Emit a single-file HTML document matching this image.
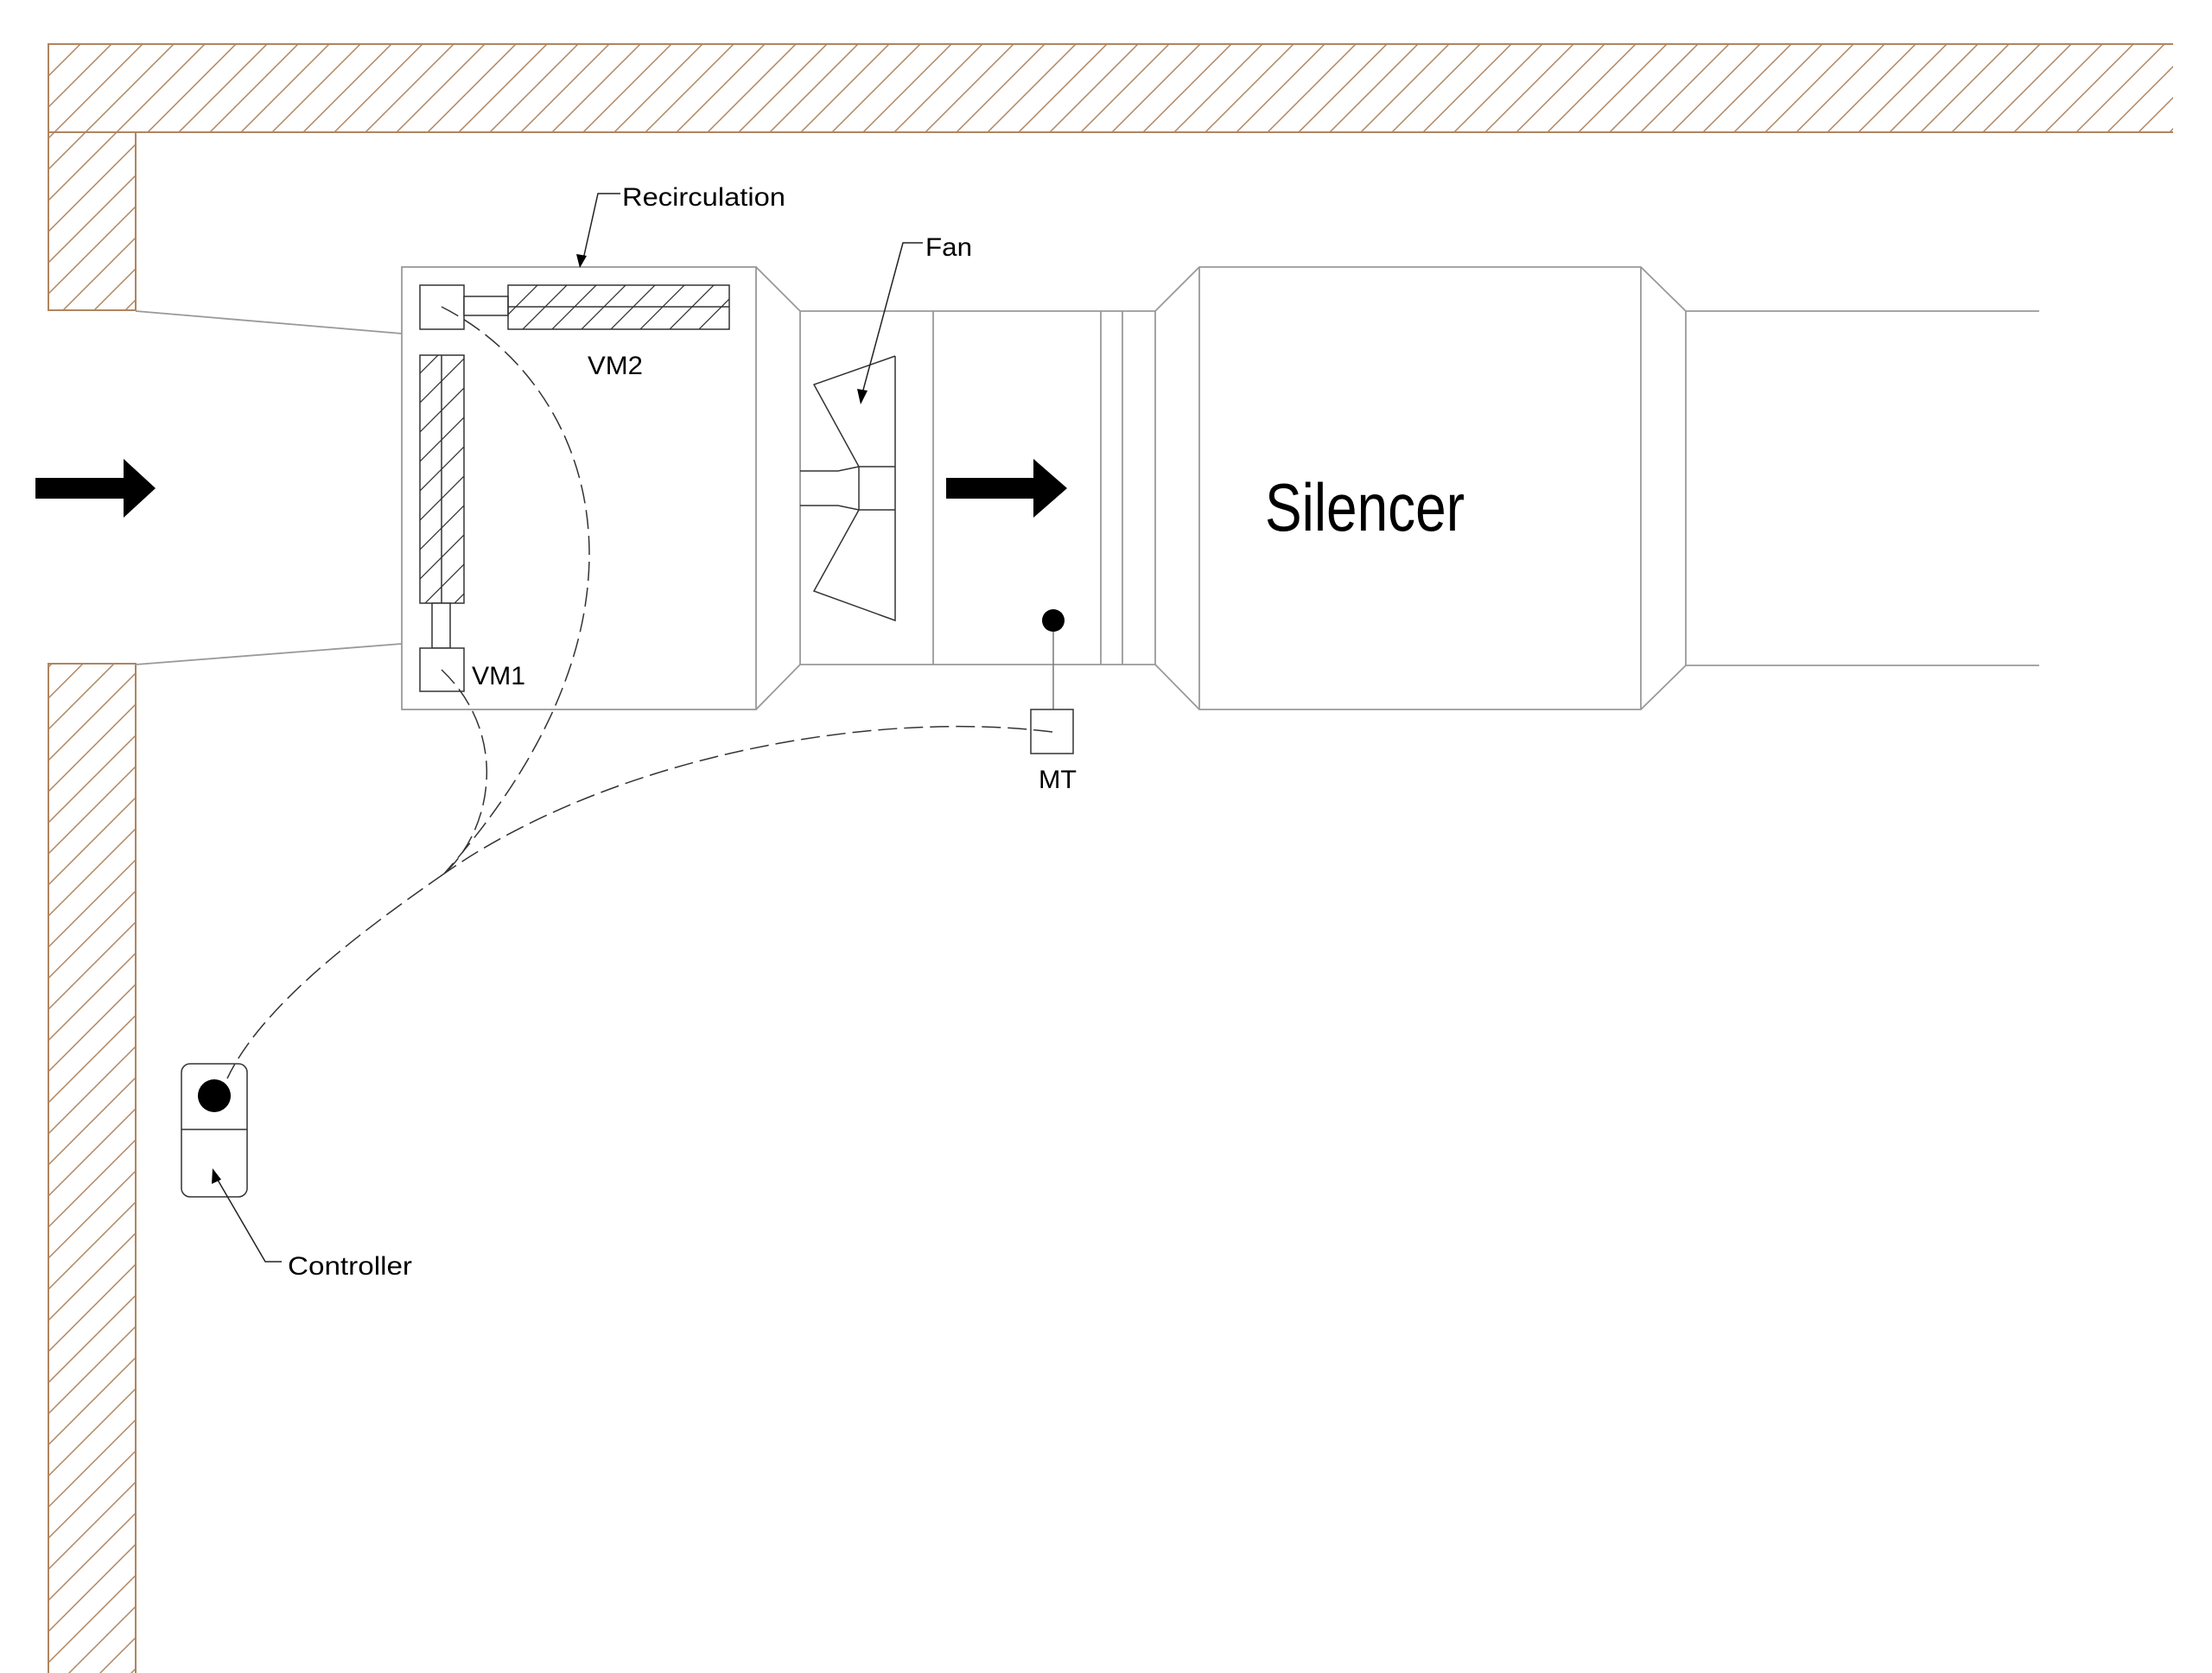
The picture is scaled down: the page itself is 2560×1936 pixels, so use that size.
<!DOCTYPE html>
<html><head><meta charset="utf-8"><style>html,body{margin:0;padding:0;background:#fff}svg{display:block}</style></head>
<body>
<svg width="2560" height="1936" viewBox="0 0 2560 1936" xmlns="http://www.w3.org/2000/svg" font-family="'Liberation Sans Narrow','Liberation Sans',sans-serif">
<defs>
<pattern id="h" patternUnits="userSpaceOnUse" width="36" height="36">
<path d="M0,36 L36,0 M-9,9 L9,-9 M27,45 L45,27" stroke="#b08560" stroke-width="1.5"/>
</pattern>
<pattern id="h2" patternUnits="userSpaceOnUse" width="34" height="34">
<path d="M0,34 L34,0 M-8,8 L8,-8 M26,42 L42,26" stroke="#333" stroke-width="1.3"/>
</pattern>
</defs>
<!-- walls -->
<rect x="56" y="51" width="2459" height="102" fill="url(#h)"/>
<path d="M2515,51 L56,51 L56,153 L2515,153" fill="none" stroke="#b08560" stroke-width="2"/>
<rect x="56" y="153" width="101" height="206" fill="url(#h)" stroke="#b08560" stroke-width="2"/>
<rect x="56" y="768" width="101" height="1180" fill="url(#h)" stroke="#b08560" stroke-width="2"/>
<g stroke="#999" stroke-width="1.8" fill="none">
<line x1="157" y1="360" x2="465" y2="386"/>
<line x1="157" y1="769" x2="465" y2="745"/>
<rect x="465" y="309" width="410" height="512"/>
<path d="M875,309 L926,360 L1337,360 L1388,309 L1899,309 L1951,360 L2360,360"/>
<path d="M875,821 L926,769 L1337,769 L1388,821 L1899,821 L1951,770 L2360,770"/>
<line x1="926" y1="360" x2="926" y2="769"/>
<line x1="1080" y1="360" x2="1080" y2="769"/>
<line x1="1274" y1="360" x2="1274" y2="769"/>
<line x1="1299" y1="360" x2="1299" y2="769"/>
<line x1="1337" y1="360" x2="1337" y2="769"/>
<line x1="1388" y1="309" x2="1388" y2="821"/>
<line x1="1899" y1="309" x2="1899" y2="821"/>
<line x1="1951" y1="360" x2="1951" y2="770"/>
</g>
<!-- dampers -->
<g stroke="#333" stroke-width="1.5" fill="none">
<rect x="486" y="330" width="51" height="51" fill="#fff"/>
<rect x="537" y="343" width="51" height="22" fill="#fff"/>
<rect x="588" y="330" width="256" height="51" fill="url(#h2)"/>
<line x1="588" y1="355" x2="844" y2="355"/>
<rect x="486" y="411" width="51" height="287" fill="url(#h2)"/>
<line x1="511" y1="411" x2="511" y2="698"/>
<rect x="500" y="698" width="21" height="52" fill="#fff"/>
<rect x="486" y="750" width="51" height="50" fill="#fff"/>
<!-- fan -->
<path d="M1036,412 L942,445 L994,540 L1036,540 M1036,412 L1036,718 L942,684 L994,590 L1036,590 M994,540 L994,590 M926,545 L970,545 L994,540 M926,585 L970,585 L994,590"/>
<!-- MT -->
<line x1="1219" y1="718" x2="1219" y2="821" stroke="#777"/>
<rect x="1193" y="821" width="49" height="51"/>
<rect x="210" y="1231" width="76" height="154" rx="10"/>
<line x1="210" y1="1307" x2="286" y2="1307"/>
</g>
<circle cx="1219" cy="718" r="13" fill="#000"/>
<circle cx="248" cy="1268" r="19" fill="#000"/>
<!-- arrows -->
<path d="M41,553 L143,553 L143,531 L180,565 L143,599 L143,577 L41,577 Z" fill="#000"/>
<path d="M1095,553 L1196,553 L1196,531 L1235,565 L1196,599 L1196,577 L1095,577 Z" fill="#000"/>
<!-- dashed cables -->
<g stroke="#333" stroke-width="1.5" fill="none" stroke-dasharray="22,8">
<path d="M511,355 C680,440 790,700 514,1011"/>
<path d="M511,775 C590,850 570,960 514,1011"/>
<path d="M1218,847 C1000,820 700,880 514,1011"/>
<path d="M514,1011 C400,1090 300,1170 263,1248"/>
</g>
<!-- leaders -->
<g stroke="#222" stroke-width="1.5" fill="none">
<path d="M718,224 L692,224 L675,300"/>
<path d="M1068,281 L1045,281 L998,455"/>
<path d="M326,1460 L307,1460 L250,1362"/>
</g>
<path d="M671,310 L667,294 L679,296 Z" fill="#000"/>
<path d="M996,468 L992,450 L1004,452 Z" fill="#000"/>
<path d="M246,1352 L245,1370 L256,1365 Z" fill="#000"/>
<!-- labels -->
<g fill="#000" font-size="30">
<text x="720" y="238" textLength="189" lengthAdjust="spacingAndGlyphs">Recirculation</text>
<text x="1071" y="296" textLength="54" lengthAdjust="spacingAndGlyphs">Fan</text>
<text x="680" y="433" textLength="64" lengthAdjust="spacingAndGlyphs">VM2</text>
<text x="546" y="792" textLength="62" lengthAdjust="spacingAndGlyphs">VM1</text>
<text x="1202" y="912" textLength="44" lengthAdjust="spacingAndGlyphs">MT</text>
<text x="333" y="1475" textLength="144" lengthAdjust="spacingAndGlyphs">Controller</text>
<text x="1464" y="614" font-size="78" textLength="231" lengthAdjust="spacingAndGlyphs">Silencer</text>
</g>
</svg>
</body></html>
